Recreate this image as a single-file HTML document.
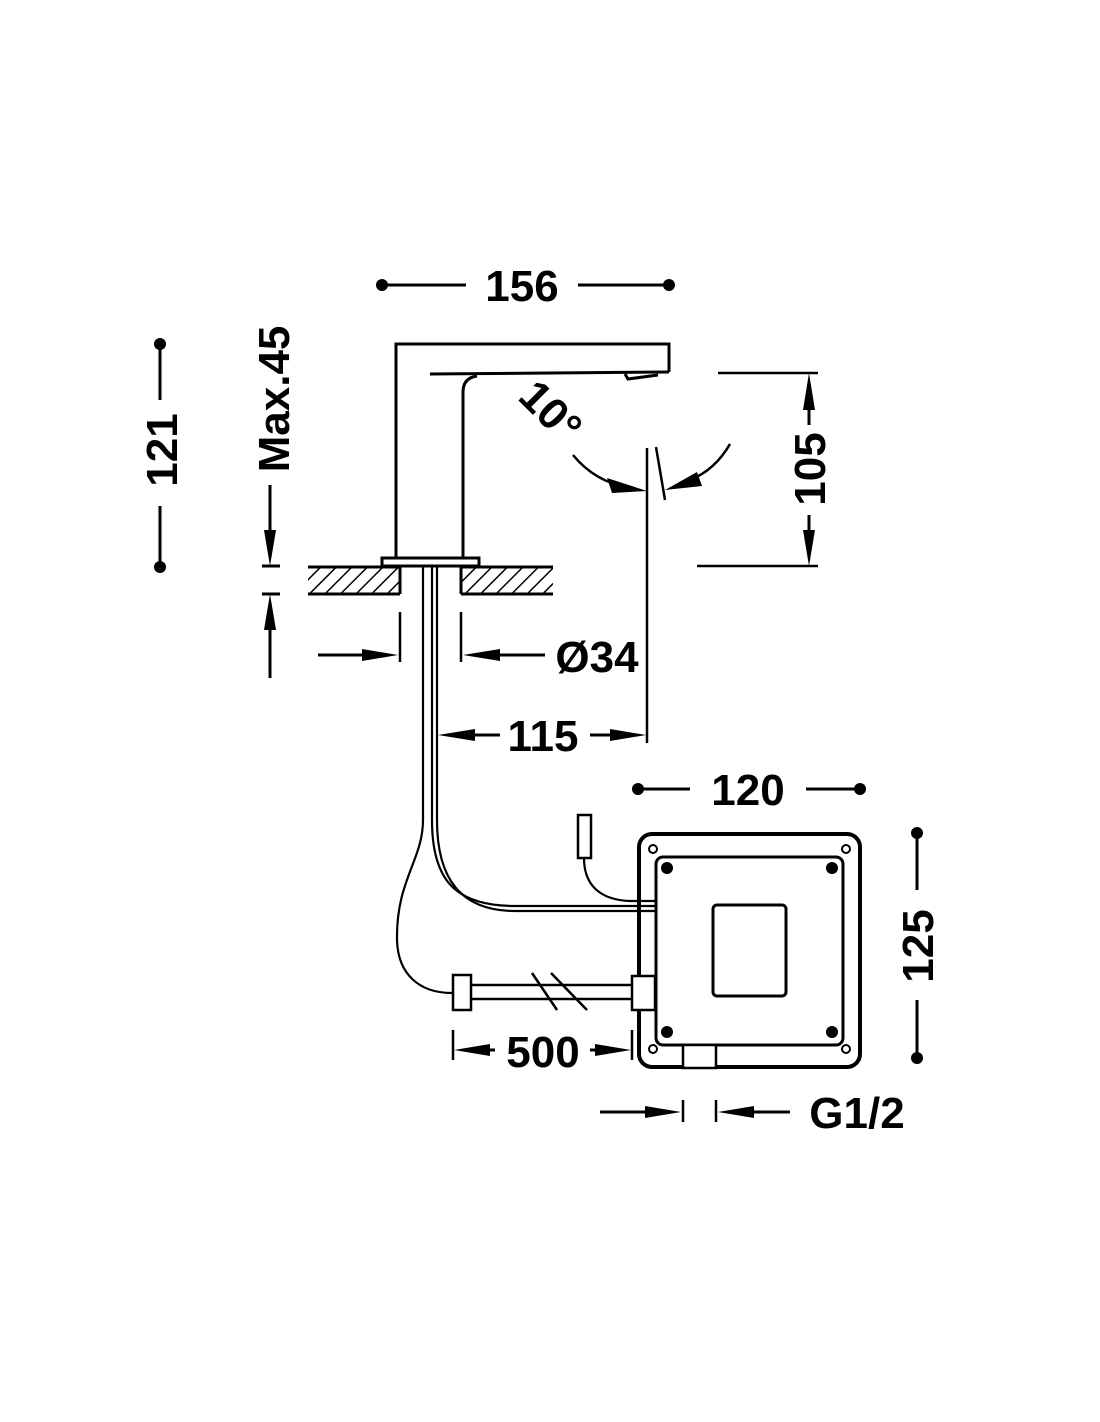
<!DOCTYPE html>
<html><head><meta charset="utf-8"><style>
html,body{margin:0;padding:0;background:#fff;}
svg{display:block;}
text{font-family:"Liberation Sans",sans-serif;font-weight:bold;font-size:44px;fill:#000;}
</style></head><body>
<svg width="1100" height="1422" viewBox="0 0 1100 1422" xmlns="http://www.w3.org/2000/svg">
<defs>
<pattern id="h" width="11" height="11" patternUnits="userSpaceOnUse" patternTransform="rotate(45)">
<line x1="0" y1="0" x2="0" y2="11" stroke="#000" stroke-width="3"/>
</pattern>
</defs>
<g stroke="#000" fill="none" stroke-width="3">
<!-- 156 -->
<circle cx="382" cy="285" r="6" fill="#000" stroke="none"/>
<circle cx="669" cy="285" r="6" fill="#000" stroke="none"/>
<line x1="382" y1="285" x2="466" y2="285"/><line x1="578" y1="285" x2="669" y2="285"/>
<!-- 121 -->
<circle cx="160" cy="344" r="6" fill="#000" stroke="none"/>
<circle cx="160" cy="567" r="6" fill="#000" stroke="none"/>
<line x1="160" y1="344" x2="160" y2="400"/><line x1="160" y1="506" x2="160" y2="567"/>
<!-- Max45 -->
<line x1="270" y1="485" x2="270" y2="545"/>
<polygon points="264,530 276,530 270,566" fill="#000" stroke="none"/>
<line x1="262" y1="566" x2="280" y2="566"/><line x1="262" y1="594" x2="280" y2="594"/>
<line x1="270" y1="615" x2="270" y2="678"/>
<polygon points="264,630 276,630 270,594" fill="#000" stroke="none"/>
<!-- faucet -->
<path d="M396,558 V344 H669 V372"/>
<path d="M430,374 L669,372" />
<path d="M463,558 V392 Q463,378 477,376"/>
<path d="M625,374 L628,379 L658,375"/>
<rect x="382" y="558" width="97" height="8" stroke-width="3"/>
<rect x="308" y="567" width="92" height="27" fill="url(#h)" stroke="none"/>
<rect x="461" y="567" width="92" height="27" fill="url(#h)" stroke="none"/>
<line x1="308" y1="567" x2="400" y2="567"/><line x1="308" y1="594" x2="400" y2="594"/><line x1="400" y1="567" x2="400" y2="594"/>
<line x1="461" y1="567" x2="553" y2="567"/><line x1="461" y1="594" x2="553" y2="594"/><line x1="461" y1="567" x2="461" y2="594"/>
<!-- 10 deg -->
<path d="M573,455 Q595,482 630,488" stroke-width="2.5"/>
<polygon points="607,478 612,493 647,491" fill="#000" stroke="none"/>
<path d="M730,444 Q715,470 690,480" stroke-width="2.5"/>
<polygon points="697,472 702,486 665,490" fill="#000" stroke="none"/>
<line x1="647" y1="448" x2="647" y2="743" stroke-width="2.5"/>
<line x1="656" y1="447" x2="665" y2="500" stroke-width="2.5"/>
<!-- 105 -->
<line x1="718" y1="373" x2="818" y2="373" stroke-width="2.5"/>
<line x1="697" y1="566" x2="818" y2="566" stroke-width="2.5"/>
<line x1="809" y1="395" x2="809" y2="425"/><polygon points="803,410 815,410 809,373" fill="#000" stroke="none"/>
<line x1="809" y1="515" x2="809" y2="545"/><polygon points="803,530 815,530 809,566" fill="#000" stroke="none"/>
<!-- Ø34 -->
<line x1="400" y1="612" x2="400" y2="662" stroke-width="2.5"/>
<line x1="461" y1="612" x2="461" y2="662" stroke-width="2.5"/>
<line x1="318" y1="655" x2="375" y2="655"/><polygon points="362,649 362,661 398,655" fill="#000" stroke="none"/>
<line x1="487" y1="655" x2="545" y2="655"/><polygon points="500,649 500,661 463,655" fill="#000" stroke="none"/>
<!-- 115 -->
<line x1="460" y1="735" x2="500" y2="735"/><polygon points="475,729 475,741 438,735" fill="#000" stroke="none"/>
<line x1="590" y1="735" x2="625" y2="735"/><polygon points="610,729 610,741 646,735" fill="#000" stroke="none"/>
<!-- hose -->
<path d="M423,566 V820 C423,860 396,880 397,940 C398,975 420,993 452,993" stroke-width="2.2"/>
<path d="M432,566 V820 C432,880 455,906 515,906 H656" stroke-width="2.2"/>
<path d="M437,566 V820 C437,878 460,911 515,911 H656" stroke-width="2.2"/>
<rect x="578" y="815" width="13" height="43" stroke-width="2.5"/>
<path d="M584,858 C584,885 600,900 630,901 H656" stroke-width="2.2"/>
<!-- box -->
<rect x="639" y="834" width="221" height="233" rx="13" stroke-width="4"/>
<rect x="656" y="857" width="187" height="188" rx="7" stroke-width="3"/>
<rect x="713" y="905" width="73" height="91" rx="4" stroke-width="3"/>
<circle cx="653" cy="849" r="4" stroke-width="2"/><circle cx="846" cy="849" r="4" stroke-width="2"/>
<circle cx="653" cy="1049" r="4" stroke-width="2"/><circle cx="846" cy="1049" r="4" stroke-width="2"/>
<circle cx="667" cy="868" r="6" fill="#000" stroke="none"/><circle cx="832" cy="868" r="6" fill="#000" stroke="none"/>
<circle cx="667" cy="1032" r="6" fill="#000" stroke="none"/><circle cx="832" cy="1032" r="6" fill="#000" stroke="none"/>
<rect x="683" y="1045" width="33" height="23" fill="#fff" stroke-width="2.5"/>
<rect x="632" y="976" width="23" height="34" fill="#fff" stroke-width="2.5"/>
<line x1="471" y1="985" x2="632" y2="985" stroke-width="2.5"/>
<line x1="471" y1="999" x2="632" y2="999" stroke-width="2.5"/>
<rect x="453" y="975" width="18" height="35" fill="#fff" stroke-width="2.5"/>
<line x1="532" y1="973" x2="557" y2="1010" stroke-width="2.5"/>
<line x1="551" y1="973" x2="587" y2="1010" stroke-width="2.5"/>
<!-- 500 -->
<line x1="453" y1="1030" x2="453" y2="1060" stroke-width="2.5"/>
<line x1="632" y1="1030" x2="632" y2="1060" stroke-width="2.5"/>
<line x1="470" y1="1050" x2="495" y2="1050"/><polygon points="490,1044 490,1056 454,1050" fill="#000" stroke="none"/>
<line x1="590" y1="1050" x2="610" y2="1050"/><polygon points="595,1044 595,1056 631,1050" fill="#000" stroke="none"/>
<!-- 120 -->
<circle cx="638" cy="789" r="6" fill="#000" stroke="none"/><circle cx="860" cy="789" r="6" fill="#000" stroke="none"/>
<line x1="638" y1="789" x2="690" y2="789"/><line x1="806" y1="789" x2="860" y2="789"/>
<!-- 125 -->
<circle cx="917" cy="833" r="6" fill="#000" stroke="none"/><circle cx="917" cy="1058" r="6" fill="#000" stroke="none"/>
<line x1="917" y1="833" x2="917" y2="890"/><line x1="917" y1="1000" x2="917" y2="1058"/>
<!-- G1/2 -->
<line x1="683" y1="1100" x2="683" y2="1122" stroke-width="2.5"/>
<line x1="716" y1="1100" x2="716" y2="1122" stroke-width="2.5"/>
<line x1="600" y1="1112" x2="650" y2="1112"/><polygon points="645,1106 645,1118 681,1112" fill="#000" stroke="none"/>
<line x1="740" y1="1112" x2="790" y2="1112"/><polygon points="754,1106 754,1118 718,1112" fill="#000" stroke="none"/>
</g>
<text x="522" y="301" text-anchor="middle">156</text>
<text transform="translate(177,450) rotate(-90)" text-anchor="middle">121</text>
<text transform="translate(289,399) rotate(-90)" text-anchor="middle">Max.45</text>
<text transform="translate(540,422) rotate(45)" text-anchor="middle">10°</text>
<text transform="translate(825,469) rotate(-90)" text-anchor="middle">105</text>
<text x="597" y="672" text-anchor="middle">Ø34</text>
<text x="543" y="751" text-anchor="middle">115</text>
<text x="748" y="805" text-anchor="middle">120</text>
<text transform="translate(933,946) rotate(-90)" text-anchor="middle">125</text>
<text x="543" y="1067" text-anchor="middle">500</text>
<text x="857" y="1128" text-anchor="middle">G1/2</text>
</svg>
</body></html>
